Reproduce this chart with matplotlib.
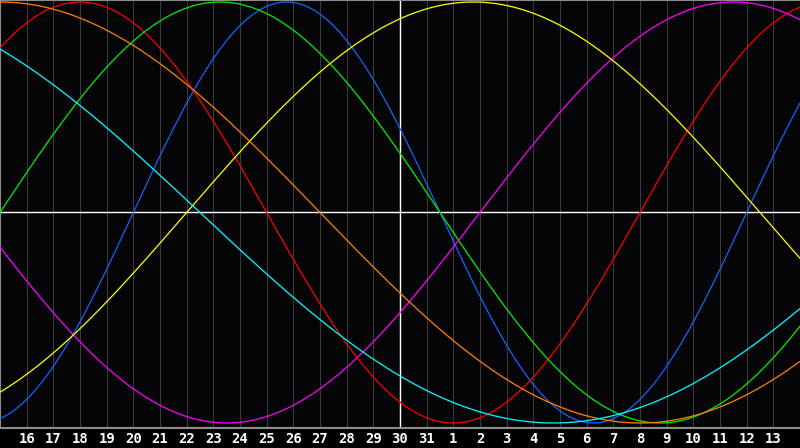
#!/usr/bin/env python3
"""Biorhythm chart: seven cycles over a 30-day window, today marked in the middle."""

import matplotlib

matplotlib.use("Agg")
import matplotlib.pyplot as plt
import numpy as np

# --- day labels under the chart (one per grid line) ---
DAY_LABELS = [
    "16", "17", "18", "19", "20", "21", "22", "23", "24", "25", "26", "27",
    "28", "29", "30", "31", "1", "2", "3", "4", "5", "6", "7", "8", "9",
    "10", "11", "12", "13",
]
WINDOW_DAYS = 30
TODAY_INDEX = 15  # "30" sits under the white centre line

# --- cycles: length in days and days already into the cycle at the left edge ---
CYCLE_NAMES = ["physical", "emotional", "intellectual", "intuitive",
               "aesthetic", "awareness", "spiritual"]
CYCLE_DAYS = [23, 28, 33, 38, 43, 48, 53]
PHASE_AT_LEFT = [18, 4, 0, 20, 36, 12, 19]
CYCLE_COLORS = ["#1464ff", "#ff0000", "#00f000", "#ff00ff",
                "#ffff00", "#ff8000", "#00ffff"]

BG = "#050508"
GRID = "#3a3a3a"
FRAME = "#8c8c8c"


def main() -> None:
    fig = plt.figure(figsize=(8.0, 4.48), dpi=100, facecolor="black")
    # plot area: full width, top 428 px; label strip below
    ax = fig.add_axes([0, 20 / 448, 1, 428 / 448])
    ax.set_facecolor(BG)

    t = np.linspace(0, WINDOW_DAYS, 1200)
    for period, phase, color in zip(CYCLE_DAYS, PHASE_AT_LEFT, CYCLE_COLORS):
        ax.plot(t, np.sin(2 * np.pi * (t + phase) / period), color=color, lw=0.9, zorder=3)

    # daily grid
    for k in range(1, WINDOW_DAYS):
        ax.axvline(k, color=GRID, lw=0.8, zorder=1)
    ax.axvline(TODAY_INDEX, color="white", lw=1.0, zorder=2)
    ax.axhline(0, color="white", lw=1.0, zorder=2)

    ax.set_xlim(0, WINDOW_DAYS)
    # +1 -> pixel 2 from top, -1 -> pixel 423, centre at 212.5
    ax.set_ylim(-(428 - 212.5) / 210.5, 212.5 / 210.5)

    ax.set_xticks([])
    ax.set_yticks([])
    ax.spines["right"].set_visible(False)
    for side in ("left", "top", "bottom"):
        ax.spines[side].set_color(FRAME)
        ax.spines[side].set_linewidth(1.5)

    for k, lab in enumerate(DAY_LABELS, start=1):
        fig.text(k / WINDOW_DAYS, 9 / 448, lab, color="white", ha="center", va="center",
                 fontsize=10, fontweight="bold", family="DejaVu Sans Mono")

    fig.savefig("out.png", dpi=100, facecolor="black")


if __name__ == "__main__":
    main()
